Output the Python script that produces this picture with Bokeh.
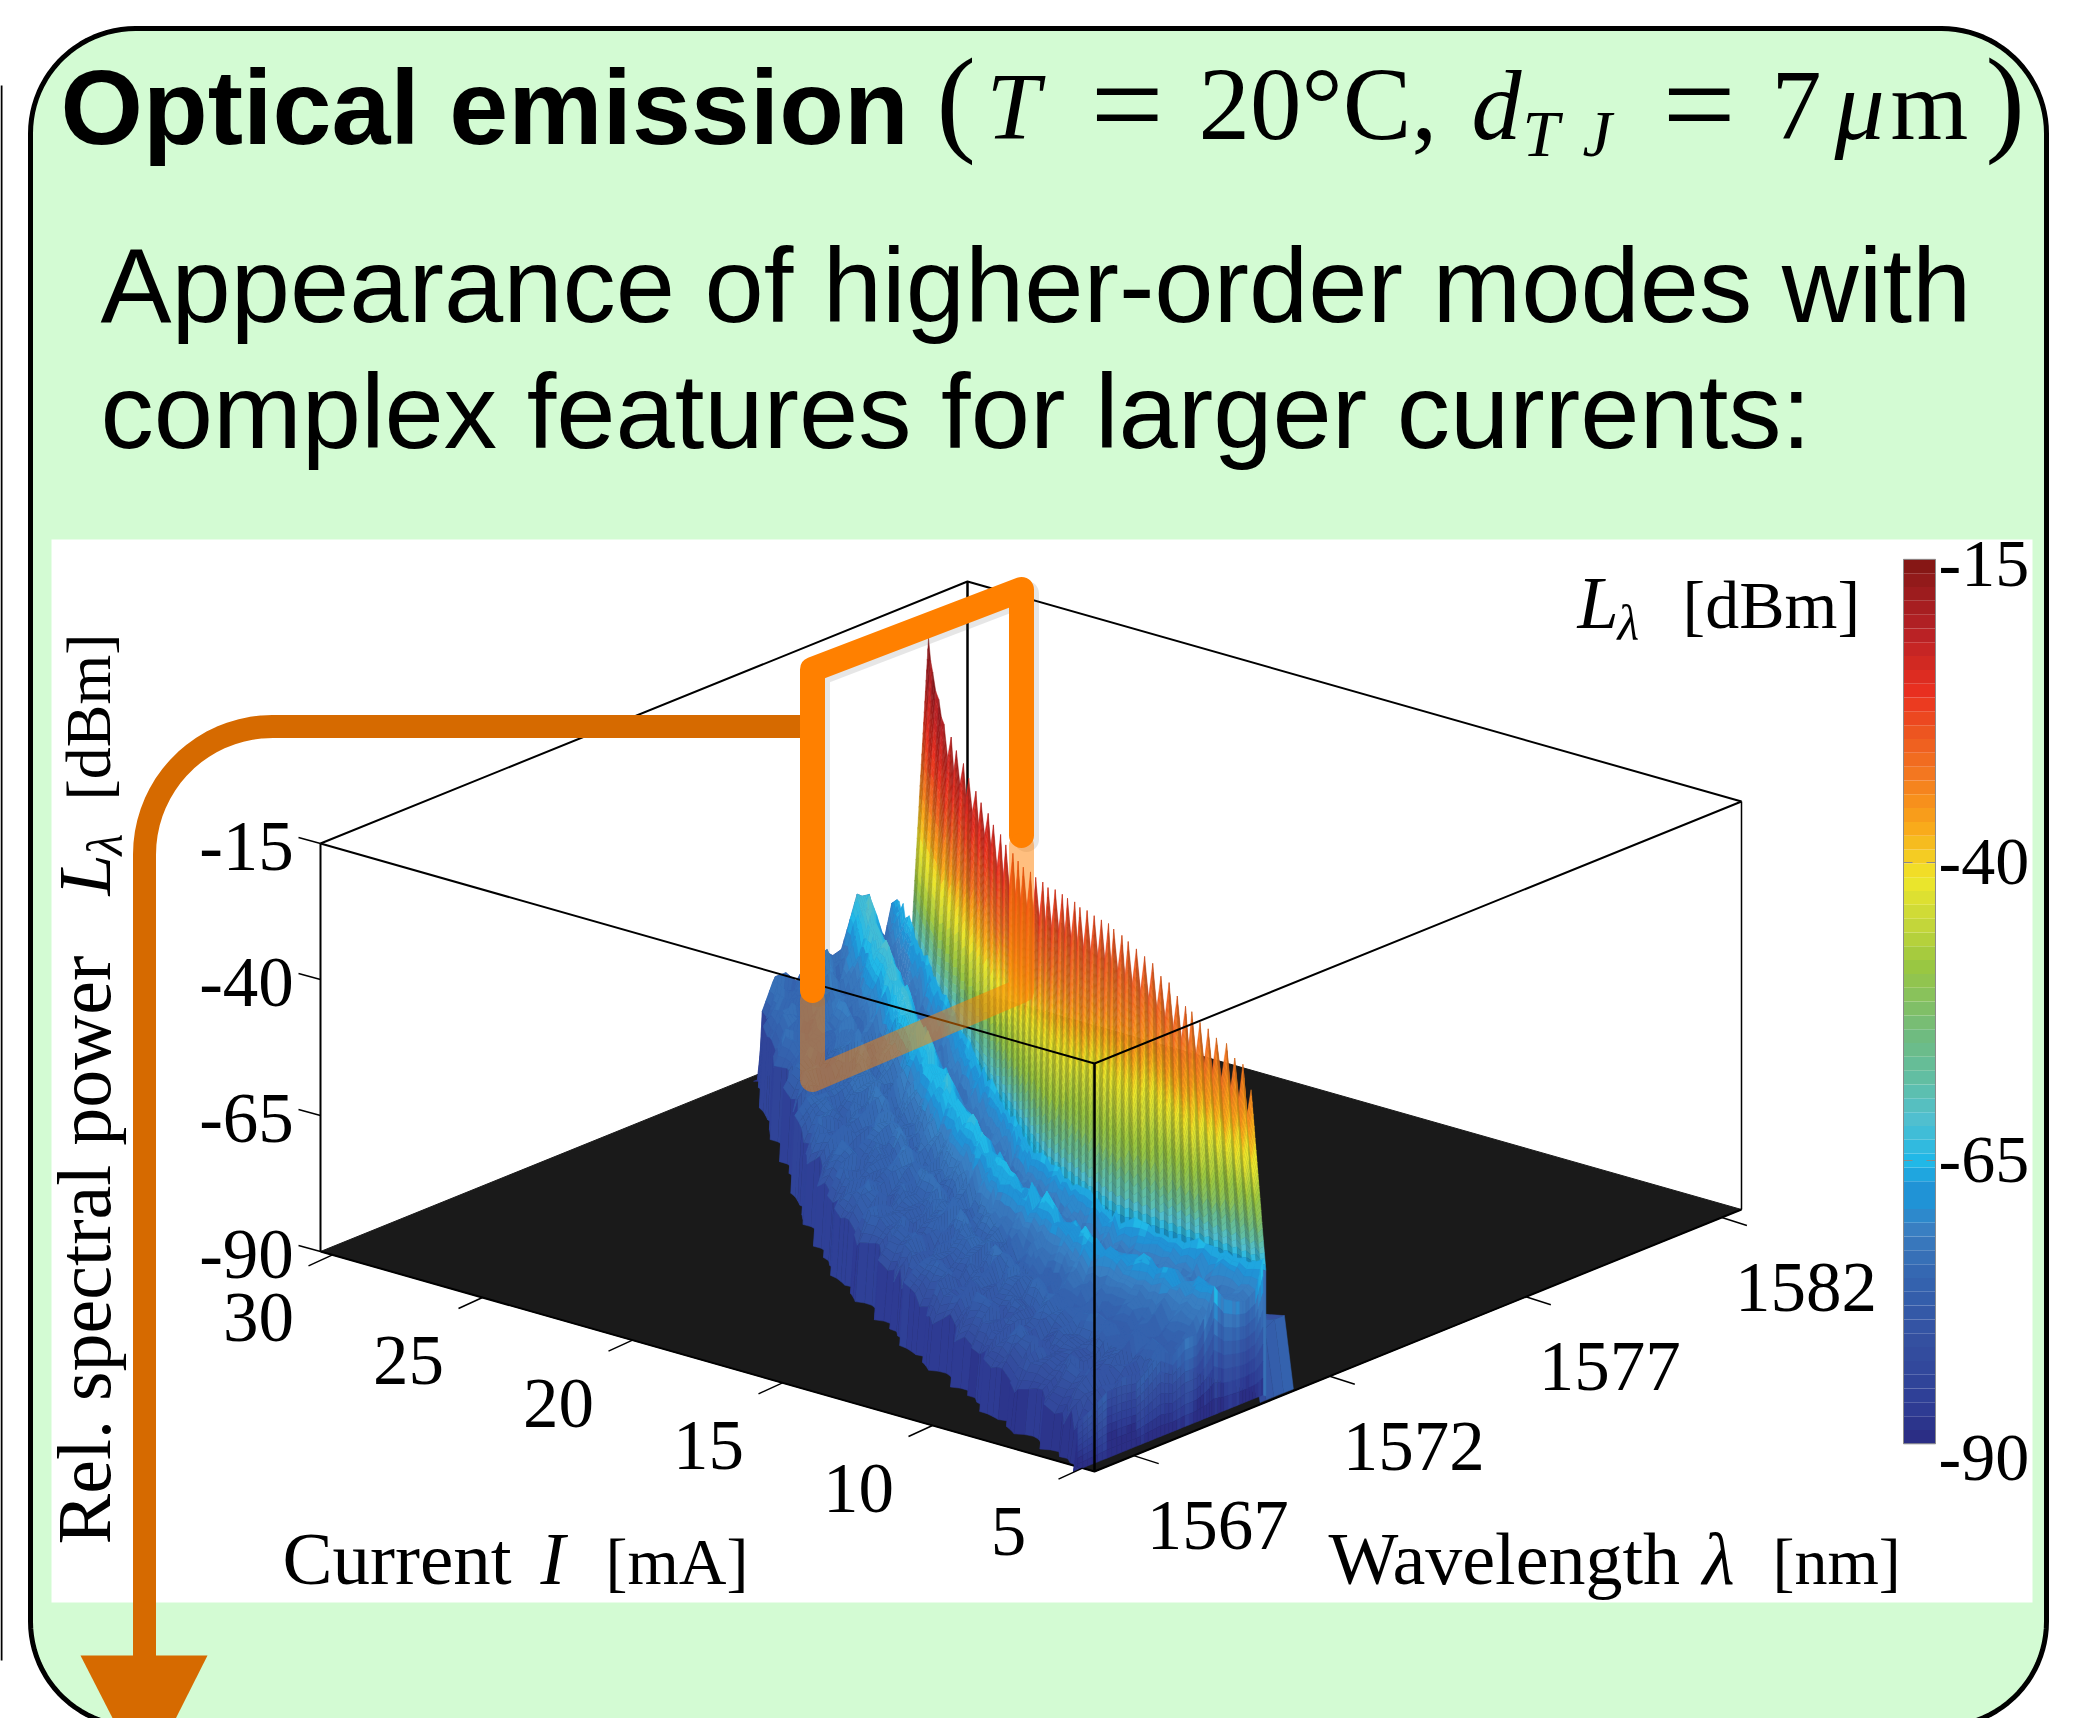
import numpy as np
from bokeh.plotting import figure
from bokeh.models import Range1d
from bokeh.core.properties import value
from bokeh.embed import file_html
from bokeh.resources import INLINE

# ---------- data ----------
current_ticks = [5, 10, 15, 20, 25, 30]
wavelength_ticks = [1567, 1572, 1577, 1582]
power_ticks = [-15, -40, -65, -90]

# main mode: one tooth per current step
currents = [5.0,5.6,6.2,6.8,7.4,8.0,8.6,9.2,9.8,10.4,11.0,11.6,12.2,12.8,13.4,14.0,14.6,
            15.2,15.7,16.2,16.7,17.2,17.7,18.2,18.7,19.2,19.7,20.2,20.7,21.2,21.7,22.2,22.7,23.2,23.7,24.2,24.7,
            25.2,25.7,26.2,26.7,27.2,27.7,28.2,28.7,29.2,29.6,30.0]
main_lambda = [1570.3,1570.55,1570.8,1571.05,1571.25,1571.5,1571.75,1572.0,1572.3,1572.55,
               1572.8,1573.05,1573.3,1573.55,1573.8,1574.05,1574.35,
               1574.6,1574.85,1575.05,1575.25,1575.45,1575.65,1575.9,1576.1,1576.35,1576.55,1576.75,1577.0,1577.2,1577.45,1577.65,1577.9,1578.15,1578.35,1578.6,1578.8,
               1579.05,1579.25,1579.5,1579.7,1579.95,1580.15,1580.4,1580.6,1580.85,1581.0,1581.2]
main_level = [-33,-30,-30.5,-29.5,-30,-30,-30.5,-30.2,-31,-30.8,
              -30,-30.5,-29.8,-30.2,-30.5,-30.8,-31.5,
              -32,-32.5,-33.2,-33.8,-34.2,-35,-35.5,-36.2,-37,-37.5,-38.5,-39,-39.5,-40,-40.5,-40.9,-41,-40.8,-40.4,-40,
              -39.4,-38.8,-38.2,-37.2,-36,-35,-34,-33,-30,-26,-21]
tip_colour = [-31,-29,-29,-28.5,-28.5,-28,-28,-27.5,-27,-27,
              -26.5,-26.5,-26,-26,-25.5,-25.5,-25,
              -25,-25,-24.5,-24.5,-24,-24,-24,-23.5,-23.5,-23,-23,-23,-22.5,-22.5,-22,-22,-21.5,-21.5,-21,-21,
              -21,-20.5,-20.5,-20,-20,-19.5,-19,-19,-18.5,-18,-17]
# where each tooth's flank reaches the cyan level
flank_current = [5, 10, 15, 20, 25, 30]
flank_end_I = [4.9, 7.7, 10.2, 13.9, 19.05, 27.2]
flank_end_lambda = [1570.6, 1570.75, 1570.8, 1571.9, 1574.4, 1578.6]
# colour along a flank: part of the way down, part of the colour range
flank_pos = [0.0, 0.28, 0.52, 0.74, 1.0]
flank_col = [0.0, 0.17, 0.39, 0.59, 1.0]

# higher-order modes: left limit and right limit of the blue area
side_I = [5, 10, 15, 20, 25, 30]
side_left = [1566.0, 1567.3, 1569.0, 1571.0, 1573.9, 1576.9]
side_right = [1570.6, 1570.8, 1572.4, 1574.9, 1577.6, 1580.4]
# distance from the right limit [nm] and level [dBm] at low and high current
side_dist = [0.0, 0.15, 0.35, 0.55, 0.8, 1.0, 1.15, 1.35, 1.6, 1.85, 2.1, 2.35, 2.6, 2.9, 3.2, 3.5, 3.8]
side_low =  [-66, -69, -72, -71, -69, -68, -70, -73, -75, -76, -75, -77, -78, -79, -78, -80, -83]
side_high = [-66, -68, -72, -71, -65, -62, -63, -67, -71, -73, -70, -72, -72, -74, -73, -72, -76]
# surface roughness [dB], read from the ragged blue texture
rough = [0.8,-1.2,1.9,-0.4,2.6,-1.8,0.3,1.4,-2.2,0.9,-0.7,2.2,-1.5,0.2,1.1,-2.7,1.7,-0.9,0.5,-1.3,
         2.4,-0.2,-1.9,1.3,0.6,-2.4,1.0,-0.6,2.0,-1.1,0.1,1.6,-1.7,0.7,-0.3,2.8,-2.0,0.4]
edge_rough = [0.05,-0.07,0.1,0.02,-0.12,0.06,-0.03,0.13,-0.09,0.04,0.11,-0.06,-0.1,0.08,0.02,-0.13,0.07,0.12,-0.04]

# small feature beyond the main mode at the lowest currents
bump_I = [8.0, 7.0, 6.0, 5.5, 5.0, 4.7]
bump_lambda = [1571.05, 1571.08, 1571.1, 1571.12, 1571.15, 1571.15]
bump_level = [-90, -79, -78, -77.5, -77, -90]

# colour bar: level [dBm] and colour
cmap_level = [-88.5,-84.9,-79.8,-74.2,-70.1,-67.6,-65.5,-61.9,-58.9,-54.8,-48.7,-45.1,-41.5,-36.9,-32.9,-29.5,-25.7,-20.6,-17.6,-13.7]
cmap_hex = ["#2a2a80","#2f3e96","#344fa0","#3565b0","#3a7fc2","#1f95d8","#20b8e8","#50c0d0","#60bfa8","#70bb80",
            "#9cc840","#c8d83a","#f0e82a","#faa61a","#f47b20","#ee5a20","#ea3020","#b82226","#a01d20","#7a1510"]

# ---------- axis limits and picture calibration ----------
I_FRONT, I_LEFT = 4.6, 30.4
LAM_FRONT, LAM_RIGHT = 1566.0, 1582.5
Z_BOT, Z_TOP = -90.0, -15.0
FX, FY = 1094.0, 1471.0
UX, UY = -774.0, -220.0
VX, VY = 647.0, -262.0
ZPX = 408.0
BLACK = "#1a1a1a"
GREEN = "#d3fbd3"
ORANGE = "#ff8000"
DARK_ORANGE = "#d66a00"
SERIF = value("Liberation Serif")
SANS = value("Liberation Sans")


def proj(I, lam, L):
    I, lam, L = np.asarray(I, float), np.asarray(lam, float), np.asarray(L, float)
    u = (I - I_FRONT) / (I_LEFT - I_FRONT)
    v = (lam - LAM_FRONT) / (LAM_RIGHT - LAM_FRONT)
    return FX + u * UX + v * VX, FY + u * UY + v * VY - (L - Z_BOT) / (Z_TOP - Z_BOT) * ZPX


_rgb = np.array([[int(h[i:i + 2], 16) for i in (1, 3, 5)] for h in cmap_hex], float)


def colour(level, shade=1.0):
    level = round((level - Z_BOT) / 75 * 64) / 64 * 75 + Z_BOT
    c = [np.interp(level, cmap_level, _rgb[:, i]) * shade for i in range(3)]
    return "#%02x%02x%02x" % tuple(int(min(255, max(0, x))) for x in c)


p = figure(width=2087, height=1718, x_range=Range1d(0, 2087), y_range=Range1d(1718, 0),
           output_backend="svg", toolbar_location=None, min_border=0, outline_line_color=None,
           background_fill_color="white", border_fill_color="white")
p.axis.visible = False
p.grid.visible = False

# ---------- panel ----------
def rounded(x0, x1, y0, y1, r):
    t = np.linspace(0, np.pi / 2, 24)
    xs = np.r_[x0 + r - r * np.cos(t), x1 - r + r * np.sin(t), x1 - r + r * np.cos(t), x0 + r - r * np.sin(t)]
    ys = np.r_[y0 + r - r * np.sin(t), y0 + r - r * np.cos(t), y1 - r + r * np.sin(t), y1 - r + r * np.cos(t)]
    return xs, ys

px, py = rounded(30, 2046, 28, 1726, 105)
p.patch(px, py, fill_color=GREEN, line_color="black", line_width=5)
p.quad(left=[51], right=[2032], top=[539], bottom=[1602], fill_color="white", line_color=None)
p.line([1, 1], [85, 1660], line_color="black", line_width=2)

# ---------- box, back part ----------
fx, fy = proj([I_FRONT, I_LEFT, I_LEFT, I_FRONT], [LAM_FRONT, LAM_FRONT, LAM_RIGHT, LAM_RIGHT], [Z_BOT] * 4)
p.patch(fx, fy, fill_color=BLACK, line_color=BLACK, line_width=1)
bx, by = proj([I_LEFT, I_LEFT, I_FRONT], [LAM_FRONT, LAM_RIGHT, LAM_RIGHT], [Z_TOP] * 3)
p.line(bx, by, line_color="black", line_width=2)
bx, by = proj([I_LEFT, I_LEFT], [LAM_RIGHT, LAM_RIGHT], [Z_TOP, Z_BOT])
p.line(bx, by, line_color="black", line_width=2.5)
ex, ey = proj([I_LEFT, I_FRONT, I_FRONT], [LAM_FRONT, LAM_FRONT, LAM_RIGHT], [Z_BOT] * 3)
p.line(ex, ey, line_color="black", line_width=2)

# ---------- surface ----------
xs, ys, cs = [], [], []


def add(q_I, q_lam, q_L, level, shade=1.0):
    x, y = proj(q_I, q_lam, np.maximum(q_L, Z_BOT))
    xs.append(list(np.round(x, 1)))
    ys.append(list(np.round(y, 1)))
    cs.append(colour(level, shade))


# beyond the main mode at low current
bump_d = [0.0, 0.25, 0.5, 0.7, 0.85]
for r in range(len(bump_I) - 1):
    for j in range(len(bump_d) - 1):
        Ia, Ib = bump_I[r], bump_I[r + 1]
        la, lb = bump_lambda[r], bump_lambda[r + 1]
        drop = [0, 0, 1, 2, 3]
        add([Ia, Ia, Ib, Ib], [la - bump_d[j], la - bump_d[j + 1], lb - bump_d[j + 1], lb - bump_d[j]],
            [bump_level[r] - drop[j], bump_level[r] - drop[j + 1], bump_level[r + 1] - drop[j + 1], bump_level[r + 1] - drop[j]],
            max(bump_level[r], bump_level[r + 1]) - drop[j] + rough[(r * 5 + j * 3) % len(rough)], 1.0)

# main mode teeth, far to near
FLANK_LEVEL = -67.0
ROWS = 30
fr = np.linspace(0, 1, ROWS + 1)
cur = np.array(currents)
lam0 = np.array(main_lambda)
lev0 = np.array(main_level)
col0 = np.array(tip_colour)
endI = np.interp(cur, flank_current, flank_end_I)
endL = np.interp(cur, flank_current, flank_end_lambda)


def column(I0, l0, z0, c0, I1, l1, f):
    g = np.interp(f, flank_pos, flank_col)
    return I0 + f * (I1 - I0), l0 + f * (l1 - l0), z0 + f * (FLANK_LEVEL - z0), c0 + g * (FLANK_LEVEL - c0)


for k in range(len(cur) - 1, 0, -1):
    a = (cur[k], lam0[k], lev0[k], col0[k], endI[k], endL[k])
    b = (cur[k - 1], lam0[k - 1], lev0[k - 1], col0[k - 1], endI[k - 1], endL[k - 1])
    dip = 7.0 if cur[k] < 25 else (5.0 if cur[k] < 29 else 1.0)
    m = tuple(0.5 * (s + t) for s, t in zip(a, b))
    m = (m[0], m[1], m[2] - dip, m[3] - dip * 0.9, m[4], m[5])
    for (c1, c2, shade) in ((a, m, 0.8), (m, b, 1.0)):
        for j in range(ROWS):
            f0, f1 = fr[j], fr[j + 1]
            A0 = column(*c1, f0); A1 = column(*c1, f1)
            B0 = column(*c2, f0); B1 = column(*c2, f1)
            add([A0[0], B0[0], B1[0], A1[0]], [A0[1], B0[1], B1[1], A1[1]], [A0[2], B0[2], B1[2], A1[2]],
                0.25 * (A0[3] + B0[3] + B1[3] + A1[3]), shade)
        # skirt from the flank end to the floor, so no floor shows behind the blue area
        add([c1[4], c2[4], c2[4], c1[4]], [c1[5], c2[5], c2[5], c1[5]], [FLANK_LEVEL, FLANK_LEVEL, Z_BOT, Z_BOT], -72.0)

# higher-order modes, far to near
d_nodes = np.array(side_dist)
rows_I = np.r_[30.15, np.arange(30.0, 4.99, -0.25), 4.72]


def level_at(I, n, i):
    w = (I - 5) / 25
    return (1 - w) * side_low[n] + w * side_high[n] + rough[(i * 5 + n * 11) % len(rough)] * (0.4 + 0.2 * (n % 3))


def row(i, I):
    left = np.interp(I, side_I, side_left) + edge_rough[(i * 7) % len(edge_rough)]
    right = np.interp(I, side_I, side_right)
    dist = d_nodes * (right - left) / d_nodes[-1]
    lam = right - dist
    lev = np.array([level_at(I, n, i) for n in range(len(d_nodes))])
    lam = np.r_[lam, lam[-1] - 0.1]
    lev = np.r_[lev, Z_BOT]
    if i == 0 or i == len(rows_I) - 1:
        lev = np.full_like(lev, Z_BOT)
    return lam, lev


for r in range(len(rows_I) - 1):
    Ia, Ib = rows_I[r], rows_I[r + 1]
    la, za = row(r, Ia)
    lb, zb = row(r + 1, Ib)
    wall = r == len(rows_I) - 2
    for j in range(len(la) - 2, -1, -1):
        sub = 3 if j < len(la) - 2 else 1
        for s in range(sub):
            t0, t1 = s / sub, (s + 1) / sub
            q_l = [la[j] + t0 * (la[j + 1] - la[j]), la[j] + t1 * (la[j + 1] - la[j]),
                   lb[j] + t1 * (lb[j + 1] - lb[j]), lb[j] + t0 * (lb[j + 1] - lb[j])]
            q_z = [za[j] + t0 * (za[j + 1] - za[j]), za[j] + t1 * (za[j + 1] - za[j]),
                   zb[j] + t1 * (zb[j + 1] - zb[j]), zb[j] + t0 * (zb[j + 1] - zb[j])]
            if not wall:
                add([Ia, Ia, Ib, Ib], q_l, q_z, max(min(np.mean(q_z), -20), -88))
            else:
                # front wall at the lowest current, with vertical striations
                n = 8
                for m in range(n):
                    e0, e1 = m / n, (m + 1) / n
                    za0 = q_z[0] + e0 * (Z_BOT - q_z[0]); zb0 = q_z[1] + e0 * (Z_BOT - q_z[1])
                    za1 = q_z[0] + e1 * (Z_BOT - q_z[0]); zb1 = q_z[1] + e1 * (Z_BOT - q_z[1])
                    add([Ia, Ia, Ia, Ia], [q_l[0], q_l[1], q_l[1], q_l[0]], [za0, zb0, zb1, za1],
                        max(0.5 * (za0 + zb0) + rough[(j * 3 + s * 7) % len(rough)], -88))

p.patches(xs, ys, fill_color=cs, line_color=cs, line_width=0.5)

# ---------- box, front part ----------
ex, ey = proj([I_LEFT, I_FRONT, I_FRONT], [LAM_FRONT, LAM_FRONT, LAM_RIGHT], [Z_TOP] * 3)
p.line(ex, ey, line_color="black", line_width=2)
ex, ey = proj([I_LEFT, I_LEFT], [LAM_FRONT, LAM_FRONT], [Z_TOP, Z_BOT])
p.line(ex, ey, line_color="black", line_width=2)
ex, ey = proj([I_FRONT, I_FRONT], [LAM_FRONT, LAM_FRONT], [Z_TOP, Z_BOT])
p.line(ex, ey, line_color="black", line_width=2.5)
ex, ey = proj([I_FRONT, I_FRONT], [LAM_RIGHT, LAM_RIGHT], [Z_TOP, Z_BOT])
p.line(ex, ey, line_color="black", line_width=1.5)

# ticks and tick labels
FS = "71px"
for t in current_ticks:
    x, y = proj(t, LAM_FRONT, Z_BOT)
    p.line([x, x - 24], [y, y + 11], line_color="black", line_width=1.5)
    p.text([x - 74], [y + 63], text=[str(t)], text_font=SERIF, text_font_size=FS, text_align="center",
           text_baseline="middle", text_color="black")
for t in wavelength_ticks:
    x, y = proj(I_FRONT, t, Z_BOT)
    p.line([x, x + 25], [y, y + 8], line_color="black", line_width=1.5)
    p.text([x + 84], [y + 70], text=[str(t)], text_font=SERIF, text_font_size=FS, text_align="center",
           text_baseline="middle", text_color="black")
for t in power_ticks:
    x, y = proj(I_LEFT, LAM_FRONT, t)
    p.line([x, x - 22], [y, y - 6], line_color="black", line_width=1.5)
    p.text([x - 74], [y + 3], text=[str(t)], text_font=SERIF, text_font_size=FS, text_align="center",
           text_baseline="middle", text_color="black")

# colour bar
edges = np.linspace(-88.6, -14.4, 65)
cb_y = lambda L: 566 + (-15 - np.asarray(L, float)) * (1460 - 566) / 75
p.quad(left=[1903] * 64, right=[1935] * 64, top=list(cb_y(edges[1:])), bottom=list(cb_y(edges[:-1])),
       fill_color=[colour(0.5 * (edges[i] + edges[i + 1])) for i in range(64)], line_color=None)
p.quad(left=[1903], right=[1935], top=[float(cb_y(edges[-1]))], bottom=[float(cb_y(edges[0]))],
       fill_color=None, line_color="#8a8a8a", line_width=1)
for t in power_ticks:
    p.text([1938], [float(cb_y(t)) - 3], text=[str(t)], text_font=SERIF, text_font_size="68px", text_align="left",
           text_baseline="middle", text_color="black")
for t in power_ticks[1:3]:
    y = float(cb_y(t)) - 2
    p.line([1903, 1912], [y, y], line_color="#8a8a8a", line_width=1)
    p.line([1926, 1935], [y, y], line_color="#8a8a8a", line_width=1)


def label(x, y, s, font=SERIF, size=74, style="normal", angle=0.0, color="black"):
    shift = 0.35 * size
    if angle:
        x, y = x - shift, y
    else:
        y = y - shift
    p.text([x], [y], text=[s], text_font=font, text_font_size=f"{size}px", text_font_style=style, angle=angle,
           text_align="left", text_baseline="alphabetic", text_color=color)


# axis titles
label(282, 1584, "Current", size=75)
label(540, 1584, "I", style="italic")
label(605, 1584, "[mA]", size=66)
label(1328, 1584, "Wavelength")
label(1702, 1584, "\u03bb", style="italic")
label(1772, 1584, "[nm]", size=66)
label(1577, 628, "L", style="italic")
label(1617, 640, "\u03bb", size=50, style="italic")
label(1682, 628, "[dBm]", size=68)
# rotated axis title
label(110, 1544, "Rel. spectral power", angle=np.pi / 2, size=76)
label(110, 895, "L", angle=np.pi / 2, size=74, style="italic")
label(122, 855, "\u03bb", angle=np.pi / 2, size=50, style="italic")
label(110, 800, "[dBm]", angle=np.pi / 2, size=64)

# heading
label(60, 144, "Optical emission", font=SANS, size=106, style="bold")
label(936, 141, "(", size=118)
label(986, 140, "T", size=96, style="italic")
label(1090, 149, "=", size=130)
label(1198, 140, "20\u00b0C,", size=103)
label(1471, 140, "d", size=100, style="italic")
label(1522, 156, "T", size=66, style="italic")
label(1582, 156, "J", size=66, style="italic")
label(1662, 149, "=", size=130)
label(1771, 140, "7", size=100)
label(1834, 140, "\u03bc", size=100, style="italic")
label(1890, 140, "m", size=100)
label(1985, 141, ")", size=118)
label(100, 322, "Appearance of higher-order modes with", font=SANS, size=106.5)
label(100, 448, "complex features for larger currents:", font=SANS, size=106.5)

# ---------- pointers ----------
t = np.linspace(np.pi, 1.5 * np.pi, 20)
R = 128
ax = np.r_[144, 144 + R + R * np.cos(t), 812]
ay = np.r_[1670, 726 + R + R * np.sin(t), 726]
p.line(ax, ay, line_color=DARK_ORANGE, line_width=23)
p.patch([80, 207, 144], [1655, 1655, 1780], fill_color=DARK_ORANGE, line_color=None)

p.line([817, 817, 1026, 1026], [994, 673, 593, 839], line_color="#555555", line_alpha=0.15, line_width=25,
       line_join="round", line_cap="round")
p.line([812, 812, 1021, 1021], [990, 669, 589, 835], line_color=ORANGE, line_width=25,
       line_join="round", line_cap="round")
p.line([812, 812, 1021, 1021], [1000, 1079, 990, 845], line_color=ORANGE, line_alpha=0.5, line_width=25,
       line_join="round", line_cap="round")

open("out.html", "w").write(file_html(p, INLINE))
